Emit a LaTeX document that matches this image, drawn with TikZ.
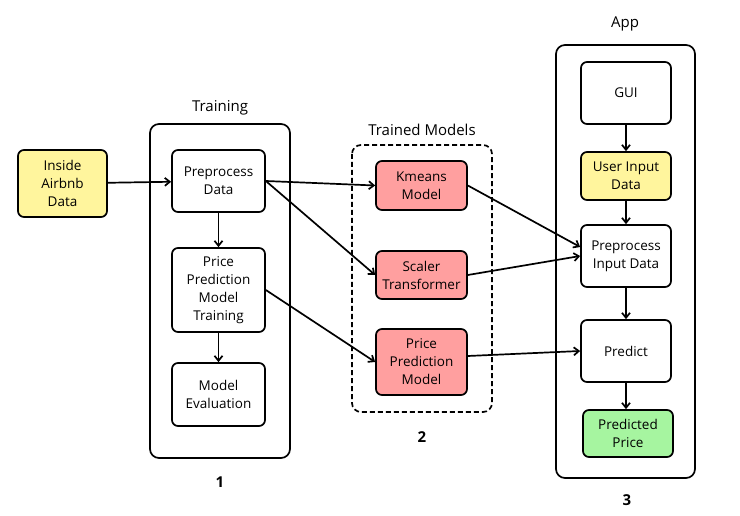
\documentclass[tikz,border=0pt]{standalone}
\usepackage{fontspec}
\setmainfont{Open Sans}
\usetikzlibrary{arrows.meta}
\definecolor{inyellow}{HTML}{FFF59D}
\definecolor{modelred}{HTML}{FF9F9F}
\definecolor{outgreen}{HTML}{A6F5A0}
\tikzstyle{box}=[draw=black,line width=1.7pt,rounded corners=6pt,align=center,inner sep=2pt,font=\fontsize{13.5}{18}\selectfont]
\tikzstyle{group}=[draw=black,line width=1.7pt,rounded corners=9pt]
\tikzstyle{title}=[font=\fontsize{15}{18}\selectfont]
\tikzstyle{num}=[font=\fontsize{15}{18}\selectfont\bfseries]
\tikzstyle{arr}=[-{Straight Barb[length=5pt,width=8pt]},line width=1.7pt]

\begin{document}
\begin{tikzpicture}[x=1pt,y=-1pt]
\useasboundingbox (0,0) rectangle (740,516);
% containers
\draw[group] (150,124) rectangle (290,458);
\draw[group,dash pattern=on 5pt off 3pt] (352,145) rectangle (492,412);
\draw[group] (556,45) rectangle (695,478);
\node[title] (ttrain) at (220,108) {Training};
\node[title] (tmodels) at (422,130) {Trained Models};
\node[title] (tapp) at (625,24) {App};
\node[num] (n1) at (220,482) {1};
\node[num] (n2) at (422,437) {2};
\node[num] (n3) at (627,500) {3};
% input
\node[box,fill=inyellow,minimum width=89pt,minimum height=67pt] (air) at (62.5,183.5) {Inside\\Airbnb\\Data};
% training
\node[box,minimum width=93pt,minimum height=62pt] (pre) at (218.5,181) {Preprocess\\Data};
\node[box,minimum width=93pt,minimum height=84pt] (train) at (218.5,290) {Price\\Prediction\\Model\\Training};
\node[box,minimum width=93pt,minimum height=63pt] (eval) at (218.5,394.5) {Model\\Evaluation};
% trained models
\node[box,fill=modelred,minimum width=91pt,minimum height=49pt] (km) at (421.5,185.5) {Kmeans\\Model};
\node[box,fill=modelred,minimum width=91pt,minimum height=48pt] (sc) at (421.5,275) {Scaler\\Transformer};
\node[box,fill=modelred,minimum width=91pt,minimum height=66pt] (ppm) at (421.5,362) {Price\\Prediction\\Model};
% app
\node[box,minimum width=90pt,minimum height=62pt] (gui) at (626,93) {GUI};
\node[box,fill=inyellow,minimum width=90pt,minimum height=48pt] (user) at (626,176) {User Input\\Data};
\node[box,minimum width=90pt,minimum height=62pt] (pin) at (626,256) {Preprocess\\Input Data};
\node[box,minimum width=90pt,minimum height=62pt] (pred) at (626,351) {Predict};
\node[box,fill=outgreen,minimum width=90pt,minimum height=47pt] (price) at (628,433.5) {Predicted\\Price};
% connectors
\draw[arr] (air) -- (pre);
\draw[arr] (pre) -- (train);
\draw[arr] (train) -- (eval);
\draw[arr] (pre.east) -- (km.west);
\draw[arr] (pre.east) -- (sc.west);
\draw[arr] (train.east) -- (ppm.west);
\draw[arr] (km.east) -- ([yshift=9pt]pin.west);
\draw[arr] (sc.east) -- (pin.west);
\draw[arr] ([yshift=6pt]ppm.east) -- (pred.west);
\draw[arr] (gui) -- (user);
\draw[arr] (user) -- (pin);
\draw[arr] (pin) -- (pred);
\draw[arr] (pred) -- (pred |- price.north);
\end{tikzpicture}
\end{document}
